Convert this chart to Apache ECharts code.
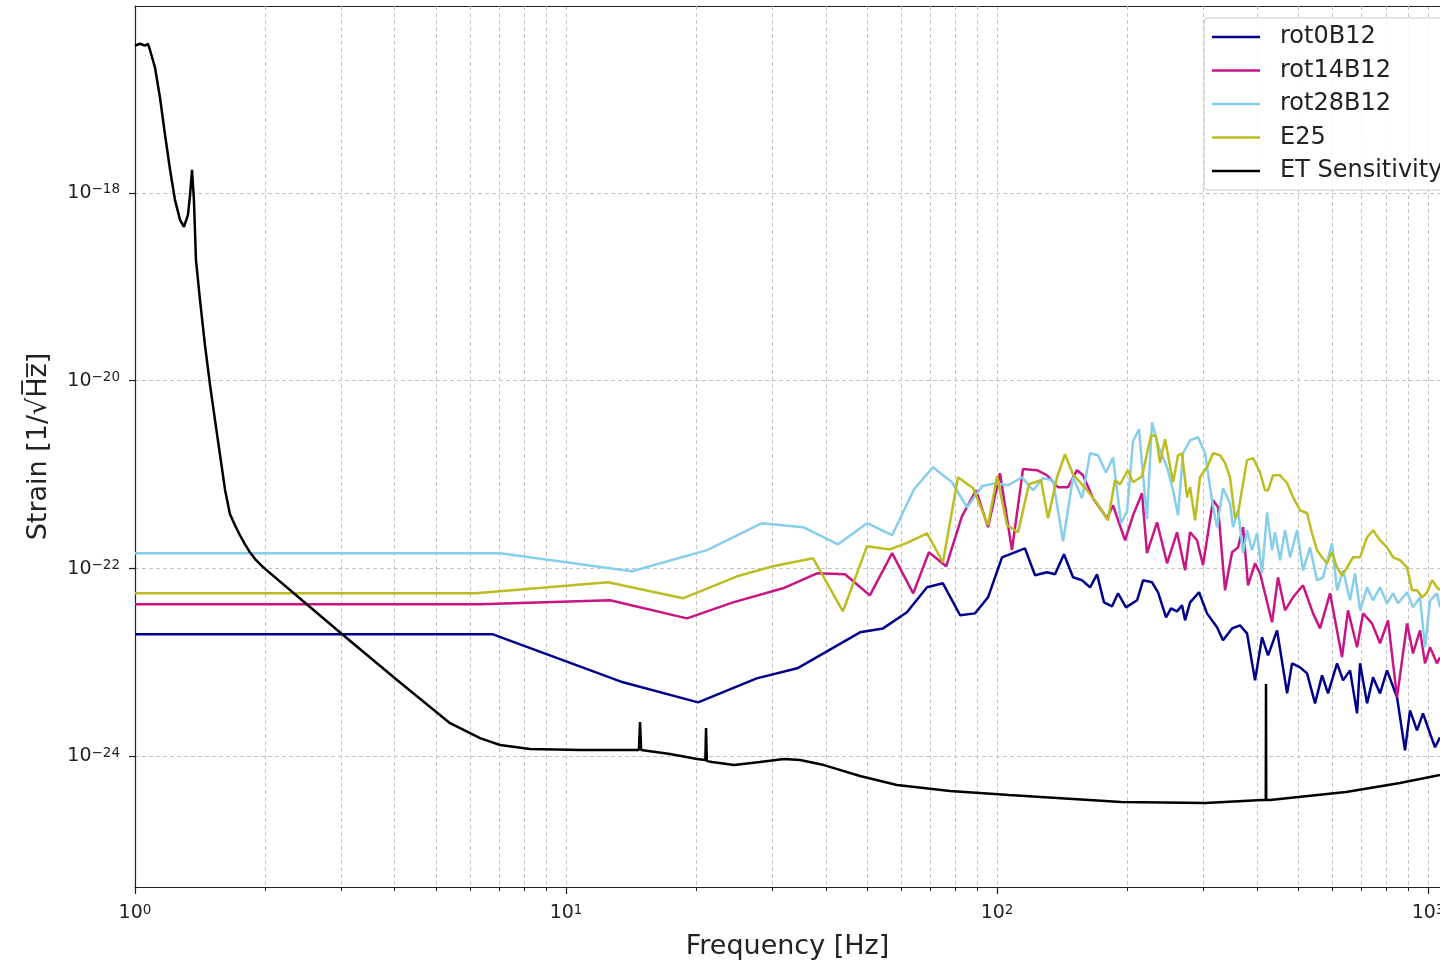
<!DOCTYPE html>
<html>
<head>
<meta charset="utf-8">
<script src="https://cdn.jsdelivr.net/npm/echarts@6/dist/echarts.min.js"></script>
<style>
html,body{margin:0;padding:0;background:#ffffff;overflow:hidden;}
#chart{width:1440px;height:964px;}
</style>
</head>
<body>
<div id="chart"></div>
<script>
// ---------------- data (frequency in Hz, strain in 1/sqrt(Hz)) ----------------
const rot0Freq = [1.0, 6.77, 13.56, 20.25, 27.7, 34.4, 48.1, 54.4, 61.8, 68.8, 74.9, 82.1, 88.9, 95.3, 102.7, 116.1, 122.5, 130.6, 136.3, 143.0, 150.1, 157.5, 164.4, 170.6, 177.1, 184.9, 190.9, 199.2, 211.3, 218.2, 228.9, 236.4, 246.7, 253.3, 261.6, 268.7, 273.1, 280.5, 294.2, 307.1, 323.9, 334.5, 351.0, 366.3, 380.2, 396.8, 412.0, 425.5, 446.4, 471.0, 483.6, 504.7, 524.0, 546.8, 567.7, 586.1, 615.1, 635.1, 659.2, 684.4, 695.4, 722.0, 745.5, 773.8, 803.3, 847.4, 884.3, 908.2, 942.8, 973.6, 1010.7, 1038, 1066];
const rot0Strain = [1.98e-23, 1.98e-23, 6.10e-24, 3.73e-24, 6.72e-24, 8.60e-24, 2.08e-23, 2.29e-23, 3.40e-23, 6.27e-23, 6.92e-23, 3.16e-23, 3.31e-23, 4.91e-23, 1.31e-22, 1.63e-22, 8.42e-23, 9.07e-23, 8.63e-23, 1.41e-22, 8.02e-23, 7.45e-23, 6.27e-23, 8.63e-23, 4.34e-23, 3.94e-23, 5.41e-23, 3.84e-23, 4.56e-23, 7.45e-23, 7.09e-23, 5.55e-23, 3.00e-23, 3.75e-23, 3.48e-23, 4.03e-23, 2.79e-23, 4.34e-23, 5.55e-23, 3.31e-23, 2.35e-23, 1.71e-23, 2.29e-23, 2.47e-23, 2.03e-23, 6.40e-24, 1.84e-23, 1.18e-23, 2.18e-23, 4.65e-24, 9.72e-24, 8.81e-24, 7.60e-24, 3.64e-24, 7.24e-24, 4.65e-24, 9.72e-24, 6.40e-24, 8.18e-24, 2.85e-24, 9.72e-24, 3.64e-24, 6.89e-24, 4.65e-24, 8.18e-24, 4.22e-24, 1.15e-24, 3.07e-24, 1.88e-24, 2.85e-24, 1.74e-24, 1.24e-24, 1.58e-24];

const rot14Freq = [1.0, 6.32, 12.65, 19.09, 24.41, 31.88, 38.23, 44.4, 50.7, 57.1, 63.9, 69.5, 76.2, 82.9, 89.4, 95.3, 101.6, 108.3, 114.9, 123.8, 130.6, 138.5, 146.1, 153.3, 158.3, 167.0, 179.9, 185.8, 198.2, 206.8, 217.0, 222.8, 235.1, 248.0, 261.6, 273.1, 280.5, 291.1, 300.6, 317.1, 325.7, 338.1, 351.0, 362.4, 372.3, 382.3, 396.8, 407.6, 434.6, 448.7, 465.8, 486.2, 512.9, 541.0, 561.6, 592.4, 631.6, 652.1, 684.4, 706.8, 741.3, 773.8, 807.6, 847.4, 894.0, 922.9, 958.1, 984.0, 1010.7, 1049, 1066];
const rot14Strain = [4.13e-23, 4.13e-23, 4.56e-23, 2.93e-23, 4.34e-23, 6.12e-23, 8.84e-23, 8.63e-23, 5.15e-23, 1.45e-22, 5.41e-23, 1.48e-22, 1.05e-22, 3.58e-22, 6.78e-22, 2.74e-22, 1.03e-21, 1.56e-22, 1.14e-21, 1.11e-21, 9.80e-22, 7.30e-22, 7.30e-22, 1.11e-21, 9.80e-22, 5.57e-22, 3.41e-22, 4.69e-22, 1.99e-22, 3.67e-22, 6.30e-22, 1.45e-22, 3.09e-22, 1.13e-22, 2.42e-22, 9.52e-23, 2.42e-22, 1.99e-22, 1.08e-22, 5.31e-22, 4.47e-22, 5.83e-23, 1.48e-22, 1.67e-22, 2.74e-22, 6.59e-23, 1.13e-22, 8.84e-23, 2.66e-23, 8.02e-23, 3.57e-23, 4.91e-23, 6.59e-23, 3.31e-23, 2.29e-23, 5.41e-23, 1.13e-23, 3.57e-23, 1.44e-23, 3.31e-23, 2.59e-23, 1.59e-23, 2.79e-23, 4.22e-24, 2.59e-23, 1.24e-23, 2.18e-23, 9.72e-24, 1.44e-23, 9.72e-24, 1.13e-23];

const rot28Freq = [1.0, 7.03, 14.23, 21.24, 28.49, 35.47, 42.77, 49.93, 57.1, 64.2, 71.0, 78.6, 85.2, 92.3, 98.9, 106.0, 114.3, 121.2, 127.9, 134.9, 142.3, 150.1, 157.5, 164.4, 171.5, 179.0, 185.8, 194.0, 200.3, 206.8, 213.5, 222.8, 228.9, 236.4, 248.0, 256.1, 263.0, 270.1, 280.5, 292.7, 303.9, 315.3, 323.9, 334.5, 347.2, 352.8, 362.4, 372.3, 380.2, 390.6, 401.1, 412.0, 423.1, 434.6, 441.6, 453.6, 465.8, 478.5, 496.6, 512.9, 532.3, 552.6, 570.6, 598.8, 615.1, 635.1, 659.2, 677.0, 695.4, 722.0, 745.5, 773.8, 803.3, 829.6, 851.9, 894.0, 922.9, 958.1, 984.0, 1010.7, 1049, 1066];
const rot28Strain = [1.45e-22, 1.45e-22, 9.29e-23, 1.56e-22, 3.02e-22, 2.74e-22, 1.80e-22, 3.02e-22, 2.25e-22, 6.95e-22, 1.19e-21, 8.25e-22, 4.47e-22, 7.48e-22, 8.05e-22, 7.66e-22, 9.33e-22, 6.78e-22, 9.10e-22, 8.67e-22, 1.94e-22, 9.33e-22, 5.57e-22, 1.68e-21, 1.60e-21, 1.05e-21, 1.52e-21, 3.02e-22, 4.05e-22, 2.26e-21, 3.03e-21, 3.33e-22, 3.60e-21, 2.05e-21, 1.19e-21, 6.78e-22, 3.67e-22, 1.68e-21, 2.31e-21, 2.49e-21, 1.68e-21, 5.31e-22, 2.74e-22, 7.12e-22, 4.93e-22, 2.74e-22, 4.15e-22, 1.45e-22, 2.54e-22, 1.56e-22, 2.36e-22, 8.84e-23, 3.95e-22, 1.56e-22, 2.42e-22, 1.22e-22, 2.54e-22, 1.31e-22, 2.54e-22, 9.52e-23, 1.67e-22, 7.45e-23, 8.02e-23, 1.85e-22, 5.83e-23, 9.52e-23, 4.56e-23, 8.84e-23, 3.57e-23, 6.27e-23, 4.56e-23, 6.27e-23, 4.24e-23, 5.41e-23, 4.24e-23, 5.55e-23, 3.84e-23, 4.91e-23, 1.44e-23, 4.56e-23, 5.41e-23, 3.84e-23];

const e25Freq = [1.0, 6.18, 12.52, 18.68, 24.94, 30.22, 37.42, 43.9, 49.93, 56.5, 62.2, 68.8, 74.9, 81.2, 88.0, 95.3, 100.0, 105.5, 111.9, 118.6, 126.5, 131.3, 137.8, 143.8, 150.1, 161.8, 170.6, 180.9, 187.8, 192.9, 201.3, 206.8, 217.0, 227.7, 233.8, 238.9, 245.4, 256.1, 263.0, 268.7, 276.0, 280.5, 288.0, 295.8, 308.8, 317.1, 329.2, 338.1, 347.2, 356.6, 362.4, 380.2, 392.6, 407.6, 418.6, 425.5, 436.9, 453.6, 471.0, 486.2, 504.7, 524.0, 538.1, 552.6, 567.7, 583.0, 598.8, 615.1, 631.6, 648.6, 669.9, 695.4, 722.0, 745.5, 773.8, 803.3, 829.6, 861.0, 894.0, 918.0, 942.8, 968.5, 994.7, 1021.7, 1049, 1066];
const e25Strain = [5.41e-23, 5.41e-23, 7.09e-23, 4.79e-23, 8.22e-23, 1.05e-22, 1.28e-22, 3.48e-23, 1.72e-22, 1.59e-22, 1.89e-22, 2.36e-22, 1.16e-22, 9.33e-22, 7.12e-22, 2.87e-22, 9.56e-22, 2.87e-22, 2.42e-22, 7.86e-22, 8.67e-22, 3.41e-22, 9.33e-22, 1.64e-21, 1.00e-21, 6.78e-22, 4.93e-22, 3.25e-22, 8.67e-22, 7.86e-22, 1.11e-21, 8.25e-22, 9.56e-22, 2.62e-21, 2.55e-21, 1.32e-21, 2.37e-21, 8.25e-22, 1.60e-21, 1.68e-21, 5.71e-22, 7.30e-22, 3.25e-22, 9.33e-22, 1.25e-21, 1.68e-21, 1.60e-21, 1.32e-21, 9.33e-22, 3.41e-22, 3.86e-22, 1.42e-21, 1.49e-21, 1.05e-21, 6.78e-22, 6.78e-22, 9.80e-22, 9.80e-22, 8.05e-22, 5.71e-22, 4.15e-22, 3.86e-22, 2.36e-22, 1.56e-22, 1.31e-22, 1.13e-22, 1.48e-22, 1.02e-22, 8.42e-23, 1.02e-22, 1.31e-22, 1.31e-22, 2.14e-22, 2.54e-22, 1.99e-22, 1.67e-22, 1.31e-22, 1.22e-22, 1.02e-22, 5.83e-23, 5.83e-23, 4.91e-23, 5.55e-23, 7.45e-23, 6.27e-23, 5.83e-23];

const etFreq = [1.0, 1.027, 1.055, 1.072, 1.083, 1.113, 1.143, 1.174, 1.206, 1.238, 1.272, 1.299, 1.327, 1.342, 1.356, 1.370, 1.385, 1.415, 1.453, 1.493, 1.533, 1.575, 1.618, 1.661, 1.706, 1.752, 1.800, 1.848, 1.909, 1.982, 2.547, 3.039, 4.055, 5.382, 6.317, 7.03, 8.25, 10.78, 13.71, 14.76, 14.85, 14.94, 17.43, 20.14, 21.05, 21.13, 21.22, 21.82, 24.54, 28.19, 32.05, 34.91, 39.68, 48.1, 58.6, 77.8, 106.6, 194.0, 303.9, 411.9, 420.3, 420.8, 421.3, 429.9, 645.2, 861, 1066];
const etStrain = [3.69e-17, 3.87e-17, 3.69e-17, 3.87e-17, 3.34e-17, 2.15e-17, 1.03e-17, 4.15e-18, 1.76e-18, 8.42e-19, 5.15e-19, 4.34e-19, 5.83e-19, 9.52e-19, 1.76e-18, 8.42e-19, 1.93e-19, 7.24e-20, 2.40e-20, 8.99e-21, 3.81e-21, 1.61e-21, 6.84e-22, 3.76e-22, 2.87e-22, 2.25e-22, 1.80e-22, 1.48e-22, 1.22e-22, 1.03e-22, 3.87e-23, 1.95e-23, 6.45e-24, 2.24e-24, 1.55e-24, 1.31e-24, 1.19e-24, 1.16e-24, 1.16e-24, 1.16e-24, 2.30e-24, 1.16e-24, 1.05e-24, 9.29e-25, 9.06e-25, 1.99e-24, 8.83e-25, 8.63e-25, 8.01e-25, 8.63e-25, 9.29e-25, 9.06e-25, 8.01e-25, 6.12e-25, 4.91e-25, 4.24e-25, 3.84e-25, 3.24e-25, 3.16e-25, 3.40e-25, 3.40e-25, 5.85e-24, 3.40e-25, 3.40e-25, 4.13e-25, 5.15e-25, 6.27e-25];

const seriesNames = ['rot0B12', 'rot14B12', 'rot28B12', 'E25', 'ET Sensitivity'];
const xTickExponents = [0, 1, 2, 3];          // labels 10^0 ... 10^3
const yTickExponents = [-24, -22, -20, -18];  // labels 10^-24 ... 10^-18
const minorMultipliers = [2, 3, 4, 5, 6, 7, 8, 9];

// ---------------- layout / style ----------------
const FONT = "'DejaVu Sans', sans-serif";
const X_MIN_HZ = 1;
const X_MAX_HZ = 1066;        // right edge of the visible (cropped) plot
const Y_MIN_EXP = -25.395;
const Y_MAX_EXP = -16.01;
const GRID_COLOR = '#c4c4c4';
const AXIS_COLOR = '#222222';

function pairs(fs, hs) {
  return fs.map((f, i) => [Math.log10(f), Math.log10(hs[i])]);
}
function isExp(v, list) {
  const r = Math.round(v);
  return Math.abs(v - r) < 1e-6 && list.indexOf(r) >= 0;
}
function expLabel(v) {
  const r = Math.round(v);
  const s = r < 0 ? '\u2212' + Math.abs(r) : String(r);
  return '{b|10}{s|' + s + '}';
}
const richTick = {
  b: {fontSize: 19, fontFamily: FONT, color: AXIS_COLOR, lineHeight: 20, verticalAlign: 'bottom'},
  s: {fontSize: 13.5, fontFamily: FONT, color: AXIS_COLOR, lineHeight: 14, verticalAlign: 'top'}
};

const minorFreqs = [];
[1, 10, 100].forEach(d => minorMultipliers.forEach(m => minorFreqs.push(m * d)));

const colors = ['#00008b', '#c71585', '#87ceeb', '#bcbd22', '#000000'];
const dataSets = [
  pairs(rot0Freq, rot0Strain),
  pairs(rot14Freq, rot14Strain),
  pairs(rot28Freq, rot28Strain),
  pairs(e25Freq, e25Strain),
  pairs(etFreq, etStrain)
];

const lineSeries = seriesNames.map((n, i) => ({
  name: n,
  type: 'line',
  data: dataSets[i],
  showSymbol: false,
  symbol: 'none',
  color: colors[i],
  lineStyle: {color: colors[i], width: 2.5},
  emphasis: {disabled: true},
  animation: false,
  clip: true,
  z: 3
}));

const minorSeries = {
  type: 'custom',
  name: '_minor',
  silent: true,
  animation: false,
  clip: false,
  z: 1,
  data: minorFreqs.map(f => [Math.log10(f), Y_MIN_EXP]),
  encode: {x: 0, y: 1},
  renderItem: function (params, api) {
    const x = api.value(0);
    const pb = api.coord([x, Y_MIN_EXP]);
    const pt = api.coord([x, Y_MAX_EXP]);
    const px = Math.round(pb[0]) + 0.5;
    return {
      type: 'group',
      children: [
        {type: 'line', shape: {x1: px, y1: pt[1], x2: px, y2: pb[1]},
         style: {stroke: GRID_COLOR, lineWidth: 1, lineDash: [4, 3]}},
        {type: 'line', shape: {x1: px, y1: pb[1], x2: px, y2: pb[1] + 4},
         style: {stroke: AXIS_COLOR, lineWidth: 1}}
      ]
    };
  }
};

const chart = echarts.init(document.getElementById('chart'), null, {renderer: 'canvas'});
chart.setOption({
  backgroundColor: '#ffffff',
  animation: false,
  textStyle: {fontFamily: FONT},
  grid: {left: 135, right: 0, top: 6, bottom: 77, containLabel: false, outerBoundsMode: 'none'},
  legend: {
    data: seriesNames,
    orient: 'vertical',
    left: 1204,
    top: 18,
    icon: 'rect',
    itemWidth: 48,
    itemHeight: 2.5,
    itemGap: 7.5,
    padding: [6, 14, 6, 8],
    backgroundColor: 'rgba(255,255,255,0.85)',
    borderColor: '#cccccc',
    borderWidth: 1,
    borderRadius: 4,
    selectedMode: false,
    textStyle: {fontSize: 24, fontFamily: FONT, color: AXIS_COLOR, lineHeight: 26, padding: [0, 0, 0, 15]}
  },
  xAxis: [{
    type: 'value',
    min: Math.log10(X_MIN_HZ),
    max: Math.log10(X_MAX_HZ),
    interval: 1,
    position: 'bottom',
    axisLine: {show: true, onZero: false, lineStyle: {color: AXIS_COLOR, width: 1.2}},
    axisTick: {show: true, length: 7, customValues: xTickExponents, lineStyle: {color: AXIS_COLOR, width: 1.2}},
    axisLabel: {
      margin: 16,
      customValues: xTickExponents,
      formatter: v => isExp(v, xTickExponents) ? expLabel(v) : '',
      rich: richTick
    },
    splitLine: {show: true, lineStyle: {color: GRID_COLOR, width: 1, type: [4, 3]}},
    name: 'Frequency [Hz]',
    nameLocation: 'middle',
    nameGap: 46,
    nameTextStyle: {fontSize: 27, fontFamily: FONT, color: AXIS_COLOR}
  }, {
    type: 'value',
    min: Math.log10(X_MIN_HZ),
    max: Math.log10(X_MAX_HZ),
    position: 'top',
    axisLine: {show: true, onZero: false, lineStyle: {color: AXIS_COLOR, width: 1.2}},
    axisTick: {show: false},
    axisLabel: {show: false},
    splitLine: {show: false}
  }],
  yAxis: {
    type: 'value',
    min: Y_MIN_EXP,
    max: Y_MAX_EXP,
    splitNumber: 5,
    axisLine: {show: true, onZero: false, lineStyle: {color: AXIS_COLOR, width: 1.2}},
    axisTick: {show: true, length: 6, customValues: yTickExponents, lineStyle: {color: AXIS_COLOR, width: 1.2}},
    axisLabel: {
      margin: 15,
      customValues: yTickExponents,
      formatter: v => isExp(v, yTickExponents) ? expLabel(v) : '',
      rich: richTick
    },
    splitLine: {show: true, lineStyle: {color: GRID_COLOR, width: 1, type: [4, 3]}},
    name: 'Strain [1/\u221AH\u0305z\u0305]',
    nameLocation: 'middle',
    nameGap: 83,
    nameRotate: 90,
    nameTextStyle: {fontSize: 27, fontFamily: FONT, color: AXIS_COLOR}
  },
  series: [minorSeries].concat(lineSeries)
});
</script>
</body>
</html>
